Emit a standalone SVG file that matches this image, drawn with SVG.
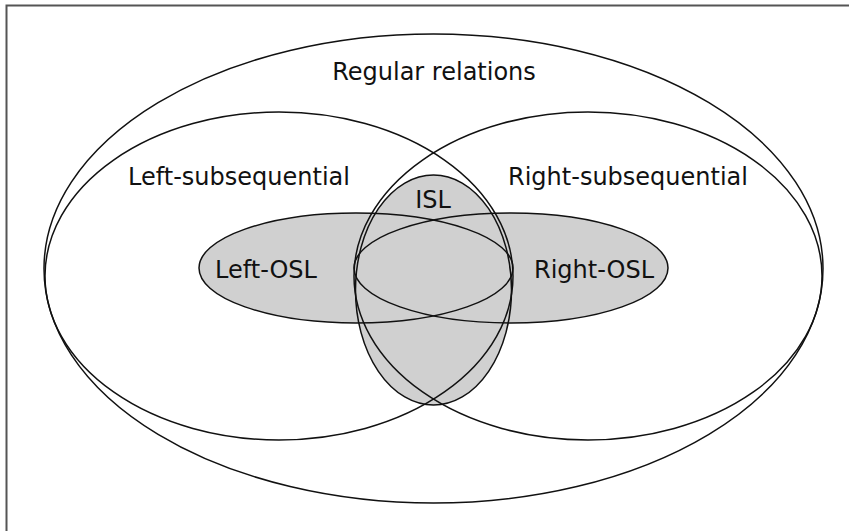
<svg xmlns="http://www.w3.org/2000/svg" width="849" height="531" viewBox="0 0 849 531">
<style>
.fill{fill:#d0d0d0;stroke:none}
.line{fill:none;stroke:#111;stroke-width:1.5}
text{font-family:"DejaVu Sans","Liberation Sans",sans-serif;font-size:24px;fill:#111;text-anchor:middle}
</style>
<rect width="849" height="531" fill="#fff"/>
<path d="M6.5 531V5.5H849" fill="none" stroke="#555" stroke-width="2"/>
<g id="fills">
<ellipse class="fill" cx="356" cy="268" rx="157" ry="55"/>
<ellipse class="fill" cx="511" cy="268" rx="157" ry="55"/>
<ellipse class="fill" cx="433.5" cy="290" rx="78" ry="115"/>
</g>
<g id="regular"><ellipse class="line" cx="433.5" cy="268.5" rx="389.5" ry="234.5"/><text x="434" y="80">Regular relations</text></g>
<g id="left-sub"><ellipse class="line" cx="279" cy="276" rx="234" ry="164"/><text x="239" y="185">Left-subsequential</text></g>
<g id="right-sub"><ellipse class="line" cx="588" cy="276" rx="234" ry="164"/><text x="628" y="185">Right-subsequential</text></g>
<g id="left-osl"><ellipse class="line" cx="356" cy="268" rx="157" ry="55"/><text x="266" y="278">Left-OSL</text></g>
<g id="right-osl"><ellipse class="line" cx="511" cy="268" rx="157" ry="55"/><text x="594" y="278">Right-OSL</text></g>
<g id="isl"><ellipse class="line" cx="433.5" cy="290" rx="78" ry="115"/><text x="433" y="208">ISL</text></g>
</svg>
